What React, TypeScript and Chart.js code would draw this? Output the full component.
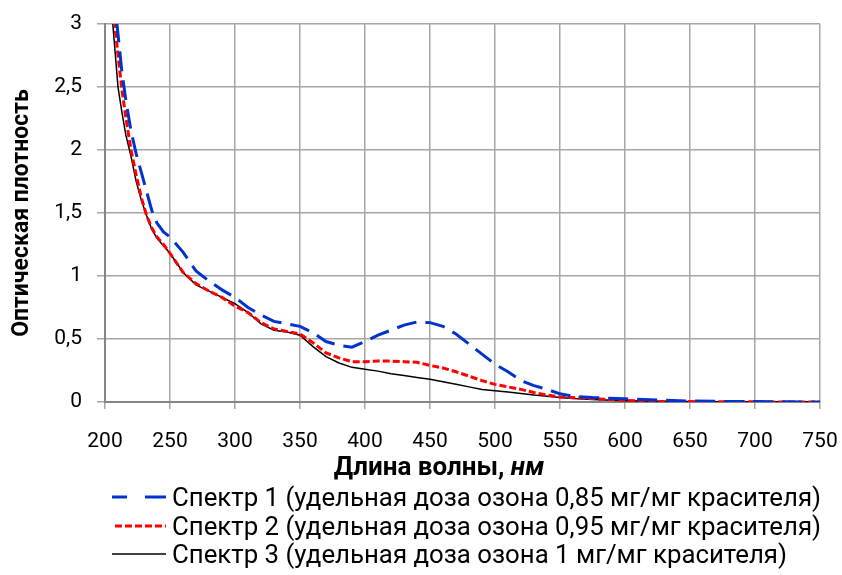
import React, { useEffect, useRef } from "react";
import { Chart, registerables } from "chart.js";

Chart.register(...registerables);

const wavelength = [204, 206, 208, 210, 213, 216, 220, 224, 228, 232, 236, 240, 245, 250, 260, 270, 280, 290, 300, 310, 320, 330, 340, 350, 360, 370, 380, 390, 400, 410, 420, 430, 440, 450, 460, 470, 480, 490, 500, 510, 520, 530, 540, 550, 560, 575, 600, 625, 650, 675, 700, 725, 750];

const spectrum1 = [3.7, 3.4, 3.12, 2.92, 2.62, 2.4, 2.15, 1.97, 1.82, 1.67, 1.52, 1.42, 1.35, 1.31, 1.19, 1.04, 0.96, 0.89, 0.83, 0.75, 0.69, 0.64, 0.62, 0.6, 0.55, 0.48, 0.45, 0.435, 0.48, 0.53, 0.57, 0.61, 0.635, 0.63, 0.6, 0.54, 0.46, 0.38, 0.3, 0.24, 0.17, 0.13, 0.1, 0.065, 0.045, 0.035, 0.025, 0.015, 0.008, 0.005, 0.003, 0.001, 0];

const spectrum2 = [3.5, 3.25, 2.95, 2.75, 2.48, 2.26, 2.0, 1.8, 1.62, 1.48, 1.38, 1.31, 1.25, 1.18, 1.03, 0.94, 0.88, 0.83, 0.76, 0.71, 0.63, 0.58, 0.56, 0.54, 0.47, 0.39, 0.35, 0.32, 0.32, 0.325, 0.325, 0.32, 0.315, 0.29, 0.27, 0.24, 0.205, 0.17, 0.14, 0.12, 0.1, 0.075, 0.055, 0.04, 0.035, 0.027, 0.013, 0.005, 0.003, 0.002, 0.001, 0, 0];

const spectrum3 = [3.4, 3.0, 2.75, 2.5, 2.3, 2.12, 1.95, 1.75, 1.6, 1.48, 1.37, 1.3, 1.24, 1.18, 1.03, 0.93, 0.88, 0.83, 0.78, 0.71, 0.62, 0.57, 0.555, 0.53, 0.44, 0.36, 0.31, 0.275, 0.26, 0.245, 0.225, 0.21, 0.195, 0.18, 0.16, 0.14, 0.12, 0.1, 0.09, 0.08, 0.068, 0.055, 0.045, 0.035, 0.028, 0.02, 0.01, 0.005, 0.003, 0.002, 0.002, 0.001, 0.001];

const seriesLabels = [
  "Спектр 1 (удельная доза озона 0,85 мг/мг красителя)",
  "Спектр 2 (удельная доза озона 0,95 мг/мг красителя)",
  "Спектр 3 (удельная доза озона 1 мг/мг красителя)",
];
const yTitle = "Оптическая плотность";
const xTitleMain = "Длина волны, ";
const xTitleUnit = "нм";

const FONT = "Roboto, 'Noto Sans', sans-serif";
const BLUE = "#0033cc";
const RED = "#ff0000";
const BLACK = "#000000";
const GRID = "#a6a6a6";
const AXIS = "#868686";

export default function App() {
  const ref = useRef<HTMLCanvasElement | null>(null);

  useEffect(() => {
    if (!ref.current) return;
    const mk = (vals: number[]) => wavelength.map((x, i) => ({ x, y: vals[i] }));
    const chart = new Chart(ref.current, {
      type: "line",
      data: {
        datasets: [
          { label: seriesLabels[0], data: mk(spectrum1), borderColor: BLUE, borderWidth: 3, borderDash: [20, 9], pointRadius: 0, fill: false, tension: 0 },
          { label: seriesLabels[1], data: mk(spectrum2), borderColor: RED, borderWidth: 3, borderDash: [7, 3], pointRadius: 0, fill: false, tension: 0 },
          { label: seriesLabels[2], data: mk(spectrum3), borderColor: BLACK, borderWidth: 1.5, pointRadius: 0, fill: false, tension: 0 },
        ],
      },
      options: {
        animation: false,
        responsive: false,
        layout: { padding: { left: 0, right: 22, top: 24, bottom: 0 } },
        plugins: { legend: { display: false }, tooltip: { enabled: false } },
        scales: {
          x: {
            type: "linear",
            min: 200,
            max: 750,
            ticks: { stepSize: 50, font: { family: FONT, size: 21 }, color: "#000", padding: 20, maxRotation: 0, autoSkip: false },
            grid: { color: GRID, lineWidth: 1.5, tickLength: 7 },
            border: { color: AXIS, width: 2 },
            afterFit: (s: any) => { s.height = 173; s.paddingLeft = 0; s.paddingRight = 0; },
          },
          y: {
            min: 0,
            max: 3,
            ticks: { stepSize: 0.5, font: { family: FONT, size: 21 }, color: "#000", padding: 15, callback: (v: any) => String(v).replace(".", ",") },
            grid: { color: GRID, lineWidth: 1.5, tickLength: 8 },
            border: { color: AXIS, width: 2 },
            title: { display: true, text: yTitle, color: "#000", font: { family: FONT, size: 23, weight: "bold" }, padding: { top: 8, bottom: 0 } },
            afterFit: (s: any) => { s.width = 105; s.paddingTop = 0; s.paddingBottom = 0; },
          },
        },
      },
    } as any);
    return () => chart.destroy();
  }, []);

  const legendRow = (i: number, top: number) => {
    const line =
      i === 0 ? <line x1={0} y1={5} x2={54} y2={5} stroke={BLUE} strokeWidth={3} strokeDasharray="15 18 21" />
      : i === 1 ? <line x1={3} y1={5} x2={54} y2={5} stroke={RED} strokeWidth={3} strokeDasharray="7 3" />
      : <line x1={0} y1={5} x2={54} y2={5} stroke={BLACK} strokeWidth={1.5} />;
    return (
      <div key={i} style={{ position: "absolute", left: 112, top, height: 28, display: "flex", alignItems: "center", whiteSpace: "nowrap" }}>
        <svg width={56} height={10} style={{ display: "block" }}>{line}</svg>
        <span style={{ marginLeft: 4, fontFamily: FONT, fontSize: 25.8, color: "#000", lineHeight: "28px" }}>{seriesLabels[i]}</span>
      </div>
    );
  };

  return (
    <div style={{ position: "fixed", left: 0, top: 0, width: 842, height: 575, background: "#fff", overflow: "hidden" }}>
      <canvas ref={ref} width={842} height={575} style={{ position: "absolute", left: 0, top: 0, width: 842, height: 575 }} />
      <div style={{ position: "absolute", left: 0, width: 878, top: 451, textAlign: "center", fontFamily: FONT, fontSize: 26, fontWeight: "bold", color: "#000", lineHeight: "30px" }}>
        {xTitleMain}<i>{xTitleUnit}</i>
      </div>
      {legendRow(0, 483)}
      {legendRow(1, 512)}
      {legendRow(2, 540)}
    </div>
  );
}
